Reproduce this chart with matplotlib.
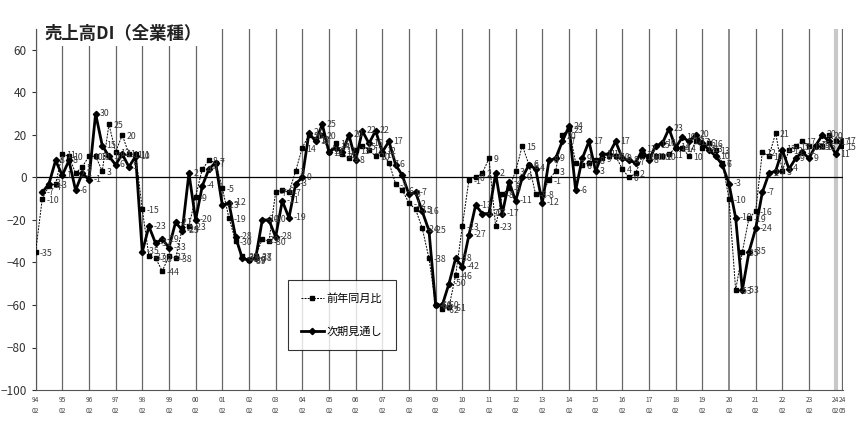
import matplotlib
matplotlib.use("Agg")
import matplotlib.pyplot as plt
import numpy as np

plt.rcParams['font.family'] = ['Noto Sans CJK JP', 'DejaVu Sans']

# quarterly periods 94/02 ... 24/05
periods = [f"{y % 100:02d}/{m:02d}" for y in range(1994, 2025) for m in (2, 5, 8, 11)][:122]

# 前年同月比 (year-on-year)
yoy = [-35, -10, -4, -3, 11, 10, 2, 5, 10, 10, 3, 25, 12, 20, 11, 11,
       -15, -37, -38, -44, -37, -38, -24, -23, -9, 4, 8, 7, -5, -19,
       -30, -37, -39, -37, -29, -30, -7, -6, -7, 3, 14, 20, 18, 20, 12, 16,
       11, 9, 13, 15, 13, 10, 11, 7, -3, -6, -12, -15, -24, -38,
       -60, -62, -61, -46, -23, -1, 0, 2, 9, -23, -8, -5, 3, 15, 6, -8,
       -8, -1, 3, 20, 23, 7, 6, 7, 8, 9, 10, 10, 4, 0, 2, 10,
       10, 10, 10, 11, 14, 14, 10, 17, 14, 16, 13, 7, -10, -53, -35, -19,
       -16, 12, 10, 21, 3, 13, 15, 17, 15, 15, 15, 20, 17, 15]

# 次期見通し (outlook)
outlook = [np.nan, -7, -3, 8, 1, 8, -6, 2, -1, 30, 15, 10, 6, 11, 5, 10,
           -35, -23, -31, -29, -33, -21, -25, 2, -20, -4, 4, 7, -13, -12,
           -28, -38, -39, -38, -20, -20, -28, -11, -19, -3, 0, 21, 17, 25, 12, 14,
           12, 20, 8, 22, 16, 22, 12, 17, 6, 1, -8, -7, -16, -25,
           -60, -60, -50, -38, -42, -27, -13, -17, -17, 2, -17, -2, -11, 0, 6, 4,
           -12, 8, 9, 17, 24, -6, 9, 17, 3, 11, 11, 17, 9, 8, 7, 13,
           8, 15, 16, 23, 14, 19, 17, 20, 16, 13, 10, 6, -3, -19, -53, -35,
           -24, -7, 2, 3, 13, 4, 9, 12, 9, 15, 20, 17, 11, 17]

tick_idx = list(range(0, 121, 4)) + [121]
tick_labels = [periods[i].replace("/", "\n") for i in tick_idx]

x = np.arange(len(periods))

fig = plt.figure(figsize=(8.6, 4.3), dpi=100)
ax = fig.add_axes([35.6 / 860, 1 - 390 / 430, (843 - 35.6) / 860, (390 - 28.75) / 430])

# vertical year lines
for i in tick_idx:
    if periods[i] == "24/02":
        ax.axvline(i, color="#c8c8c8", lw=3, zorder=1)
    elif periods[i] == "20/02":
        ax.axvline(i, color="#8a8a8a", lw=1.4, zorder=1)
    else:
        ax.axvline(i, color="#666666", lw=0.9, zorder=1)
ax.axhline(0, color="black", lw=0.9, zorder=2)

ax.plot(x, yoy, color="black", lw=0.7, ls=(0, (2, 1.2)), marker="s", ms=2.8,
        mfc="black", mec="black", zorder=3, label="前年同月比")
ax.plot(x, outlook, color="black", lw=2.0, marker="D", ms=3.2,
        mfc="black", mec="black", zorder=4, label="次期見通し")

for xi, v in zip(x, yoy):
    ax.annotate(f"{v}", (xi, v), xytext=(3, -1), textcoords="offset points",
                fontsize=6.3, color="#383838", va="center", ha="left", zorder=5)
for xi, v in zip(x, outlook):
    if np.isnan(v):
        continue
    ax.annotate(f"{int(v)}", (xi, v), xytext=(3, 0), textcoords="offset points",
                fontsize=6.3, color="#383838", va="center", ha="left", zorder=5)

ax.set_xlim(0, 121.1)
ax.set_ylim(-100, 70)
ax.set_yticks(range(-100, 61, 20))
ax.set_xticks(tick_idx)
ax.set_xticklabels(tick_labels, fontsize=4.8, color="#444444", linespacing=1.6)
ax.tick_params(axis="x", length=0, pad=4)
ax.tick_params(axis="y", labelsize=8.5, colors="#333333", length=3, width=0.8)
for s in ("top", "right"):
    ax.spines[s].set_visible(False)
ax.spines["left"].set_color("#555555")
ax.spines["bottom"].set_color("#555555")

# title inside the plot
ax.text(0.011, 0.985, "売上高DI（全業種）", transform=ax.transAxes, fontsize=12.5,
        fontweight="bold", ha="left", va="center", color="#222222",
        bbox=dict(facecolor="white", edgecolor="none", pad=2), zorder=6)

leg = ax.legend(loc="upper left", bbox_to_anchor=((288 - 35.6) / (843 - 35.6), 1 - (280 - 28.75) / (390 - 28.75)),
                frameon=True, fancybox=False, edgecolor="black", fontsize=8,
                labelspacing=2.0, borderpad=1.2, handlelength=2.0, handletextpad=0.3,
                borderaxespad=0)
leg.get_frame().set_linewidth(0.8)
leg.set_zorder(7)

fig.savefig("out.png", dpi=100)
